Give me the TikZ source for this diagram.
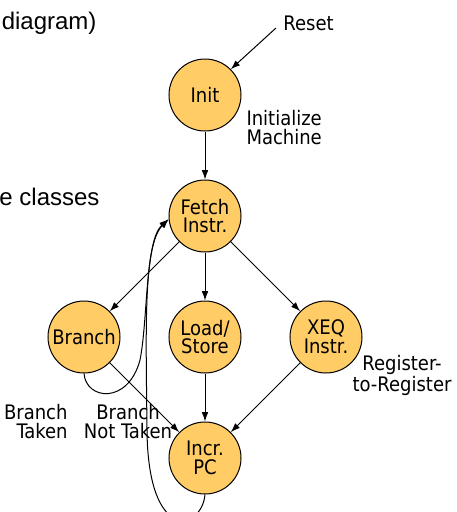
\documentclass[tikz,border=0pt]{standalone}
\usepackage{fontspec}
\setmainfont{DejaVu Sans Condensed}
\newfontfamily\headfont{Liberation Sans}
\usetikzlibrary{positioning,arrows.meta}
\definecolor{stateorange}{RGB}{255,204,102}

\begin{document}
\begin{tikzpicture}[x=0.75pt, y=-0.75pt, node distance=36pt,
    state/.style={circle, draw, fill=stateorange, minimum size=54pt, inner sep=0pt, align=center, font=\fontsize{15}{14}\selectfont},
    note/.style={inner sep=0pt, font=\fontsize{15}{14}\selectfont},
    head/.style={inner sep=0pt, font=\headfont\fontsize{18}{20}\selectfont},
    >={Latex[length=7pt,width=5pt]}, line width=0.75pt]
    \useasboundingbox (0,0) rectangle (457,512);

    \node[head, anchor=base east] (title) at (97,29) {diagram)};
    \node[head, anchor=base east] (classes) at (100,205) {e classes};

    \node[state] (init) at (205,95) {Init};
    \node[state, below = of init] (fetch) {Fetch\\Instr.};
    \node[state, below = of fetch] (load) {Load/\\Store};
    \node[state, left = of load] (branch) {Branch};
    \node[state, right = of load] (xeq) {XEQ\\Instr.};
    \node[state, below = of load] (pc) {Incr.\\PC};

    \node[note, anchor=base west] (reset) at (283,30) {Reset};
    \node[note, align=left, anchor=base west] (initnote) at (246,144) {Initialize\\Machine};
    \node[note, align=center, anchor=base] (regnote) at (402,391) {Register-\\to-Register};
    \node[note, align=right, anchor=base east] (taken) at (68,438) {Branch\\Taken};
    \node[note, align=center, anchor=base] (nottaken) at (128,438) {Branch\\Not Taken};

    \coordinate (resetin) at (276,28);
    \draw[->] (resetin) -- (init.45);
    \draw[->] (init) -- (fetch);
    \draw[->] (fetch) -- (branch);
    \draw[->] (fetch) -- (load);
    \draw[->] (fetch) -- (xeq);
    \draw[->] (branch) -- (pc);
    \draw[->] (load) -- (pc);
    \draw[->] (xeq) -- (pc);

    % loops back to fetch
    \draw[->] (branch.south) .. controls (86,400) and (128,405) .. (140,360)
        .. controls (148,320) and (145,240) .. (fetch.185);
    \draw[->] (pc.south) .. controls (202,530) and (148,545) .. (147,430)
        .. controls (146,330) and (143,245) .. (fetch.185);
\end{tikzpicture}
\end{document}
